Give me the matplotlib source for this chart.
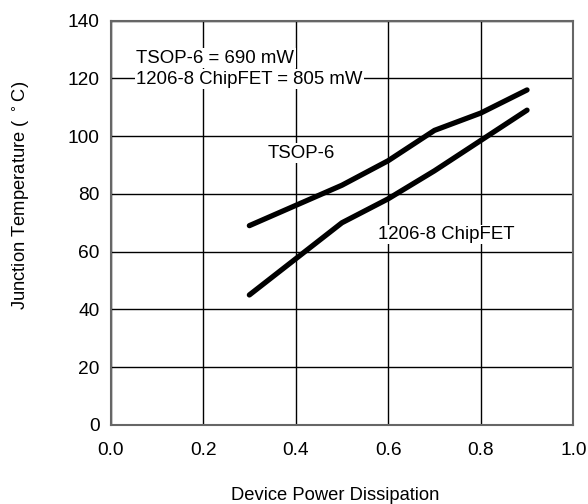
import numpy as np
import matplotlib
matplotlib.use('Agg')
import matplotlib.pyplot as plt

plt.rcParams['font.family'] = ['Liberation Sans', 'DejaVu Sans']

# 读取自图上的数据
power_w = [0.3, 0.5, 0.6, 0.7, 0.8, 0.9]
tsop6_temp = [69, 83, 91.5, 102, 108, 116]
chipfet_temp = [45, 70, 78.3, 88, 98.5, 109]

x_ticks = [0.0, 0.2, 0.4, 0.6, 0.8, 1.0]
y_ticks = [0, 20, 40, 60, 80, 100, 120, 140]

fig = plt.figure(figsize=(5.88, 5.04), dpi=100)
ax = fig.add_axes([0.188, 0.157, 0.787, 0.802])

ax.plot(power_w, tsop6_temp, color='black', linewidth=3.8, solid_capstyle='round', zorder=3)
ax.plot(power_w, chipfet_temp, color='black', linewidth=3.8, solid_capstyle='round', zorder=3)

ax.set_xlim(0, 1.0)
ax.set_ylim(0, 140)
ax.set_xticks(x_ticks)
ax.set_xticklabels([f'{v:.1f}' for v in x_ticks])
ax.set_yticks(y_ticks)
ax.tick_params(axis='x', length=0, pad=12, labelsize=13.8)
ax.tick_params(axis='y', length=0, pad=8, labelsize=13.8)
ax.grid(True, color='black', linewidth=1)
ax.set_axisbelow(True)
for s in ax.spines.values():
    s.set_color('#666666')
    s.set_linewidth(1.5)

box = dict(facecolor='white', edgecolor='none', pad=1)
ax.text(0.056, 127, 'TSOP-6 = 690 mW', fontsize=13.4, va='center', ha='left', bbox=box, zorder=2)
ax.text(0.056, 119.7, '1206-8 ChipFET = 805 mW', fontsize=13.4, va='center', ha='left', bbox=box, zorder=2)
ax.text(0.339, 94.1, 'TSOP-6', fontsize=13.4, va='center', ha='left', bbox=box, zorder=2)
ax.text(0.578, 65.9, '1206-8 ChipFET', fontsize=13.4, va='center', ha='left', bbox=box, zorder=2)

fig.text(335 / 588, 1 - 496 / 504, 'Device Power Dissipation', fontsize=13.2, ha='center', va='center')
fig.text(21.7 / 588, 1 - 195.6 / 504, r'Junction Temperature ( $^\circ$C)', fontsize=13.2,
         rotation=90, ha='center', va='center')

fig.savefig('out.png', dpi=100)
